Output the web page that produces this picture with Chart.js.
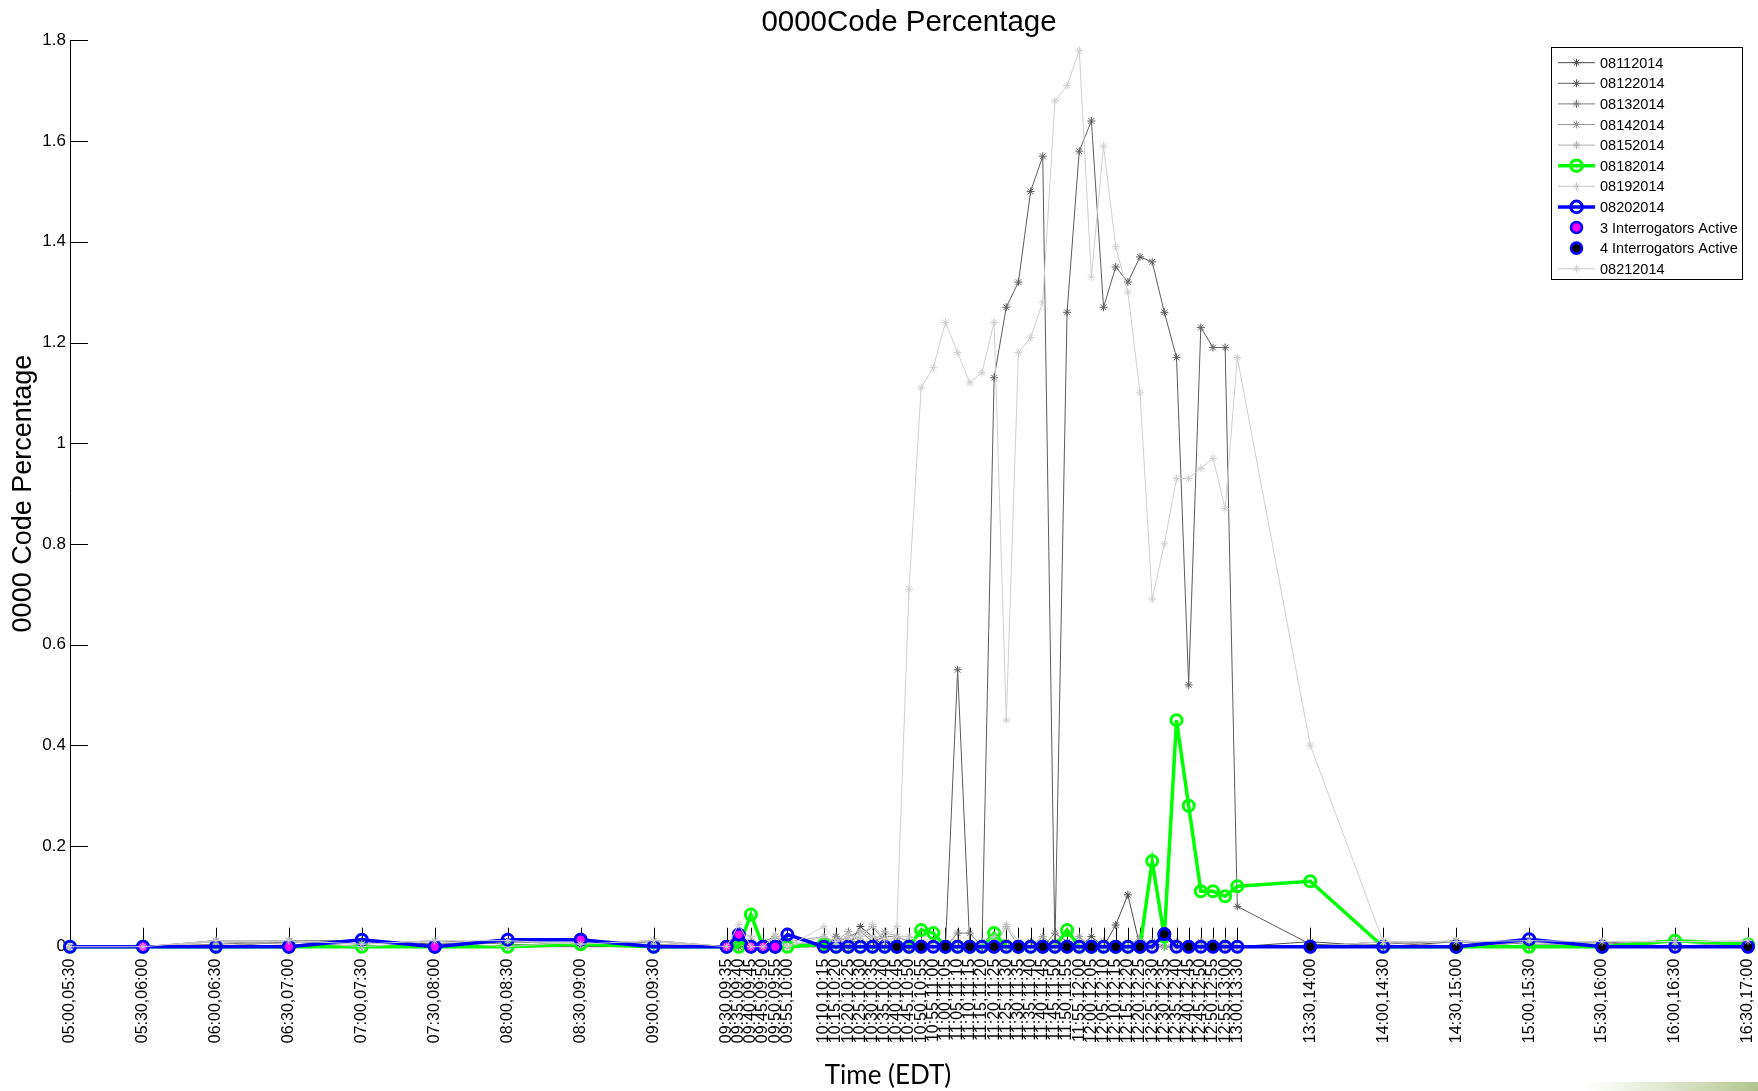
<!DOCTYPE html>
<html>
<head>
<meta charset="utf-8">
<title>0000Code Percentage</title>
<script src="https://cdn.jsdelivr.net/npm/chart.js@4.4.1/dist/chart.umd.min.js"></script>
<style>
  html, body { margin: 0; padding: 0; background: #ffffff; }
  #wrap { width: 1758px; height: 1091px; position: relative; }
</style>
</head>
<body>
<div id="wrap"><canvas id="c" width="1758" height="1091"></canvas></div>
<script>
// Reporting intervals (start,end) in EDT
const timeSlots = [
  '05:00,05:30','05:30,06:00','06:00,06:30','06:30,07:00','07:00,07:30','07:30,08:00','08:00,08:30','08:30,09:00','09:00,09:30',
  '09:30,09:35','09:35,09:40','09:40,09:45','09:45,09:50','09:50,09:55','09:55,10:00',
  '10:10,10:15','10:15,10:20','10:20,10:25','10:25,10:30','10:30,10:35','10:35,10:40','10:40,10:45','10:45,10:50','10:50,10:55','10:55,11:00',
  '11:00,11:05','11:05,11:10','11:10,11:15','11:15,11:20','11:20,11:25','11:25,11:30','11:30,11:35','11:35,11:40','11:40,11:45','11:45,11:50',
  '11:50,11:55','11:55,12:00','12:00,12:05','12:05,12:10','12:10,12:15','12:15,12:20','12:20,12:25','12:25,12:30','12:30,12:35','12:35,12:40',
  '12:40,12:45','12:45,12:50','12:50,12:55','12:55,13:00','13:00,13:30',
  '13:30,14:00','14:00,14:30','14:30,15:00','15:00,15:30','15:30,16:00','16:00,16:30','16:30,17:00'
];

// 0000 code percentage per day
const s08112014 = [
  0, 0, 0.012, 0.012, 0.012, 0.005, 0.01, 0.005, 0.012,
  0, 0, 0, 0, 0, 0,
  0, 0.02, 0, 0.04, 0.02, 0, 0.01, 0, 0, 0,
  0, 0, 0, 0, 0, 0, 0, 0, 0, 0.01,
  0, 0, 0.02, 0, 0.043, 0.103, 0, 0, 0, 0,
  0, 0, 0, 0, 0,
  0.01, 0, 0.01, 0, 0.01, 0, 0.005
];
const s08122014 = [
  0, 0, 0, 0.01, 0, 0, 0, 0, 0,
  0, 0, 0, 0, 0, 0,
  0, 0, 0.01, 0.01, 0, 0, 0, 0, 0, 0,
  0, 0.55, 0, 0, 1.13, 1.27, 1.32, 1.50, 1.57, 0,
  1.26, 1.58, 1.64, 1.27, 1.35, 1.32, 1.37, 1.36, 1.26, 1.17,
  0.52, 1.23, 1.19, 1.19, 0.08,
  0.005, 0, 0, 0, 0, 0, 0
];
const s08132014 = [
  0, 0, 0.005, 0.01, 0.005, 0.012, 0.005, 0, 0.01,
  0, 0.01, 0, 0.01, 0.02, 0,
  0.01, 0.01, 0.02, 0.03, 0.01, 0.02, 0.02, 0.01, 0, 0.01,
  0, 0.027, 0.027, 0, 0, 0.01, 0, 0.01, 0, 0.027,
  0.01, 0, 0, 0.01, 0, 0, 0, 0.01, 0, 0,
  0, 0.01, 0, 0, 0,
  0, 0.005, 0.012, 0.005, 0.005, 0.012, 0.005
];
const s08142014 = [
  0, 0, 0.01, 0.005, 0, 0.005, 0.01, 0.005, 0.005,
  0, 0.005, 0.01, 0, 0, 0.01,
  0, 0.02, 0.01, 0.02, 0.04, 0.01, 0.01, 0, 0, 0,
  0, 0.01, 0, 0, 0.01, 0, 0.005, 0, 0.02, 0,
  0, 0.02, 0, 0, 0, 0, 0.02, 0, 0.02, 0,
  0, 0, 0.01, 0, 0,
  0, 0.01, 0, 0.01, 0, 0, 0.01
];
const s08152014 = [
  0, 0, 0, 0.012, 0.01, 0, 0, 0.01, 0,
  0, 0.02, 0.01, 0, 0.02, 0.01,
  0.02, 0.01, 0.03, 0.01, 0.01, 0.03, 0.02, 0.01, 0, 0,
  0, 0, 0, 0.01, 0, 0.04, 0, 0, 0.01, 0,
  0, 0, 0.01, 0, 0, 0, 0, 0, 0, 0.01,
  0, 0.01, 0, 0.01, 0,
  0, 0.01, 0.01, 0, 0.01, 0.01, 0
];
const s08182014 = [
  0, 0, 0, 0, 0, 0, 0, 0.005, 0,
  0, 0, 0.064, 0, 0, 0,
  0.005, 0, 0, 0, 0, 0, 0, 0, 0.033, 0.027,
  0, 0, 0, 0, 0.027, 0, 0, 0, 0, 0,
  0.033, 0, 0, 0, 0, 0, 0, 0.17, 0.02, 0.45,
  0.28, 0.11, 0.11, 0.10, 0.12,
  0.13, 0, 0, 0, 0, 0.012, 0.005
];
const s08192014 = [
  0, 0, 0.01, 0.01, 0, 0.01, 0, 0.01, 0.01,
  0, 0.03, 0.02, 0, 0.01, 0,
  0.02, 0.01, 0.01, 0.03, 0.02, 0.01, 0.02, 0.02, 0.01, 0,
  0, 0.01, 0, 0.01, 0.02, 0.044, 0.01, 0, 0.01, 0,
  0, 0.01, 0, 0.01, 0, 0, 0.01, 0, 0.02, 0,
  0, 0.01, 0.01, 0, 0,
  0, 0.01, 0.01, 0.01, 0.01, 0.01, 0.01
];
const s08202014 = [
  0, 0, 0, 0, 0.014, 0, 0.014, 0.014, 0,
  0, 0.024, 0, 0, 0, 0.024,
  0, 0, 0, 0, 0, 0, 0, 0, 0, 0,
  0, 0, 0, 0, 0, 0, 0, 0, 0, 0,
  0, 0, 0, 0, 0, 0, 0, 0, 0.025, 0,
  0, 0, 0, 0, 0,
  0, 0, 0, 0.015, 0, 0, 0
];
const s08212014 = [
  0, 0, 0.012, 0.012, 0.005, 0.012, 0.012, 0.005, 0.012,
  0, 0.044, 0, 0, 0.023, 0,
  0.04, 0.01, 0.02, 0.02, 0.044, 0.015, 0.04, 0.71, 1.11, 1.15,
  1.24, 1.18, 1.12, 1.14, 1.24, 0.45, 1.18, 1.21, 1.28, 1.68,
  1.71, 1.78, 1.33, 1.59, 1.39, 1.30, 1.10, 0.69, 0.80, 0.93,
  0.93, 0.95, 0.97, 0.87, 1.17,
  0.40, 0.01, 0.01, 0.012, 0.01, 0.01, 0.012
];

// Intervals flagged by number of active interrogators
const threeActiveSlots = ['05:30,06:00','06:30,07:00','07:30,08:00','08:30,09:00','09:30,09:35','09:35,09:40','09:40,09:45','09:45,09:50','09:50,09:55'];
const threeActiveValues = [0, 0, 0, 0.014, 0, 0.024, 0, 0, 0];
const fourActiveSlots = ['10:40,10:45','10:50,10:55','11:00,11:05','11:10,11:15','11:20,11:25','11:30,11:35','11:40,11:45','11:50,11:55',
  '12:00,12:05','12:10,12:15','12:20,12:25','12:30,12:35','12:40,12:45','12:50,12:55','13:30,14:00','14:30,15:00','15:30,16:00','16:30,17:00'];
const fourActiveValues = [0, 0, 0, 0, 0, 0, 0, 0, 0, 0, 0, 0.025, 0, 0, 0, 0, 0, 0];

const yTicks = [0, 0.2, 0.4, 0.6, 0.8, 1, 1.2, 1.4, 1.6, 1.8];

// interval start in minutes after midnight
function slotStart(label) {
  const [h, m] = label.split(',')[0].split(':').map(Number);
  return h * 60 + m;
}
const slotMinutes = timeSlots.map(slotStart);
const labelAt = {};
timeSlots.forEach((l, i) => { labelAt[slotMinutes[i]] = l; });

const series = (values) => values.map((v, i) => ({ x: slotMinutes[i], y: v }));
const flagged = (slots, values) => slots.map((s, i) => ({ x: slotStart(s), y: values[i] }));

function grayLine(label, values, color) {
  return {
    label, data: series(values), borderColor: color, backgroundColor: color, borderWidth: 1,
    pointStyle: 'star', pointRadius: 4, pointBorderWidth: 1, pointBorderColor: color, pointBackgroundColor: color,
    showLine: true, clip: false
  };
}
function ringLine(label, values, color) {
  return {
    label, data: series(values), borderColor: color, backgroundColor: color, borderWidth: 3.5,
    pointStyle: 'circle', pointRadius: 5.5, pointBorderWidth: 3, pointBorderColor: color,
    pointBackgroundColor: 'rgba(0,0,0,0)', showLine: true, clip: false
  };
}
function flagMarks(label, slots, values, fill) {
  return {
    label, data: flagged(slots, values), showLine: false, borderColor: '#0000ff', backgroundColor: fill,
    pointStyle: 'circle', pointRadius: 5.5, pointBorderWidth: 2.6, pointBorderColor: '#0000ff',
    pointBackgroundColor: fill, borderWidth: 0, clip: false
  };
}

const datasets = [
  grayLine('08112014', s08112014, '#4a4a4a'),
  grayLine('08122014', s08122014, '#5c5c5c'),
  grayLine('08132014', s08132014, '#7a7a7a'),
  grayLine('08142014', s08142014, '#969696'),
  grayLine('08152014', s08152014, '#acacac'),
  ringLine('08182014', s08182014, '#00ff00'),
  grayLine('08192014', s08192014, '#c6c6c6'),
  ringLine('08202014', s08202014, '#0000ff'),
  flagMarks('3 Interrogators Active', threeActiveSlots, threeActiveValues, '#ff00ff'),
  flagMarks('4 Interrogators Active', fourActiveSlots, fourActiveValues, '#000000'),
  grayLine('08212014', s08212014, '#cfcfcf')
];
// later series are painted over earlier ones
datasets.forEach((d, i) => { d.order = datasets.length - 1 - i; });

function drawMarker(ctx, style, x, y, r, fill, stroke, lw) {
  ctx.save();
  ctx.lineWidth = lw; ctx.strokeStyle = stroke; ctx.fillStyle = fill;
  ctx.beginPath();
  if (style === 'star') {
    for (let k = 0; k < 4; k++) {
      const a = k * Math.PI / 4;
      ctx.moveTo(x + Math.cos(a) * r, y + Math.sin(a) * r);
      ctx.lineTo(x - Math.cos(a) * r, y - Math.sin(a) * r);
    }
    ctx.stroke();
  } else {
    ctx.arc(x, y, r, 0, Math.PI * 2);
    ctx.fill();
    ctx.stroke();
  }
  ctx.restore();
}

const FONT = '"Liberation Sans", Arial, Helvetica, sans-serif';

// inward-pointing axis ticks
const inwardTicks = {
  id: 'inwardTicks',
  beforeDatasetsDraw(chart) {
    const { ctx, chartArea, scales } = chart;
    ctx.save();
    ctx.strokeStyle = '#000'; ctx.lineWidth = 1;
    ctx.beginPath();
    scales.x.ticks.forEach(t => {
      const px = Math.round(scales.x.getPixelForValue(t.value)) + 0.5;
      ctx.moveTo(px, chartArea.bottom); ctx.lineTo(px, chartArea.bottom - 19);
    });
    scales.y.ticks.forEach(t => {
      const py = Math.round(scales.y.getPixelForValue(t.value)) + 0.5;
      ctx.moveTo(chartArea.left, py); ctx.lineTo(chartArea.left + 18, py);
    });
    ctx.stroke();
    ctx.restore();
  }
};

// titles, legend box and footer strip
const decorations = {
  id: 'decorations',
  afterDraw(chart) {
    const { ctx, chartArea, width, height } = chart;
    const cx = (chartArea.left + chartArea.right) / 2;
    const cy = (chartArea.top + chartArea.bottom) / 2;
    ctx.save();
    ctx.fillStyle = '#000';
    ctx.textAlign = 'center'; ctx.textBaseline = 'middle';
    ctx.font = '29.5px ' + FONT;
    ctx.fillText('0000Code Percentage', cx, 23);

    ctx.save();
    ctx.translate(24, cy);
    ctx.rotate(-Math.PI / 2);
    ctx.font = '27px ' + FONT;
    ctx.fillText('0000 Code Percentage', 0, 0);
    ctx.restore();

    ctx.font = '26px Lato, "Open Sans", sans-serif';
    ctx.fillText('Time (EDT)', cx - 21, 1076);

    // legend
    const w = 191, h = 232;
    const left = chartArea.right - 197, top = chartArea.top + 6.6;
    ctx.fillStyle = '#fff';
    ctx.fillRect(left, top, w, h);
    ctx.strokeStyle = '#000'; ctx.lineWidth = 1;
    ctx.strokeRect(Math.round(left) + 0.5, Math.round(top) + 0.5, w, h);
    chart.data.datasets.forEach((ds, i) => {
      const y = top + 15.7 + i * 20.6;
      if (ds.showLine) {
        ctx.beginPath();
        ctx.strokeStyle = ds.borderColor; ctx.lineWidth = ds.borderWidth;
        ctx.moveTo(left + 7, y); ctx.lineTo(left + 44, y);
        ctx.stroke();
      }
      const r = ds.pointStyle === 'star' ? 4 : (ds.showLine ? 5.8 : 5.5);
      drawMarker(ctx, ds.pointStyle, left + 25.5, y, r, ds.pointBackgroundColor, ds.pointBorderColor, ds.pointBorderWidth);
      ctx.fillStyle = '#000';
      ctx.textAlign = 'left'; ctx.textBaseline = 'middle';
      ctx.font = '14.5px ' + FONT;
      ctx.fillText(ds.label, left + 49, y + 1);
    });

    // footer strip
    const g = ctx.createLinearGradient(width - 175, 0, width, 0);
    g.addColorStop(0, 'rgba(196,210,165,0)');
    g.addColorStop(1, 'rgba(178,196,140,1)');
    ctx.fillStyle = g;
    ctx.fillRect(width - 175, height - 9, 175, 9);
    ctx.restore();
  }
};

new Chart(document.getElementById('c'), {
  type: 'line',
  data: { datasets },
  options: {
    responsive: false,
    animation: false,
    devicePixelRatio: 1,
    events: [],
    layout: { padding: { top: 40.4, right: 10, left: 0, bottom: 0 } },
    elements: { line: { tension: 0 } },
    plugins: { legend: { display: false }, tooltip: { enabled: false }, title: { display: false } },
    scales: {
      x: {
        type: 'linear',
        min: slotMinutes[0],
        max: slotMinutes[slotMinutes.length - 1],
        afterBuildTicks: (s) => { s.ticks = slotMinutes.map(v => ({ value: v })); },
        afterFit: (s) => { s.height = 1091 - 946.7; s.paddingLeft = 0; s.paddingRight = 0; },
        grid: { display: false, drawTicks: false },
        border: { display: true, color: '#000', width: 1 },
        ticks: {
          autoSkip: false, minRotation: 90, maxRotation: 90, padding: 12,
          color: '#000', font: { family: FONT, size: 16 },
          callback: (v) => labelAt[v] || ''
        }
      },
      y: {
        min: 0, max: 1.8,
        afterBuildTicks: (s) => { s.ticks = yTicks.map(v => ({ value: v })); },
        afterFit: (s) => { s.width = 70; s.paddingTop = 0; s.paddingBottom = 0; },
        grid: { display: false, drawTicks: false },
        border: { display: true, color: '#000', width: 1 },
        ticks: {
          padding: 4, color: '#000', font: { family: FONT, size: 17 },
          callback: (v) => String(Number(v.toFixed(1)))
        }
      }
    }
  },
  plugins: [inwardTicks, decorations]
});
</script>
</body>
</html>
